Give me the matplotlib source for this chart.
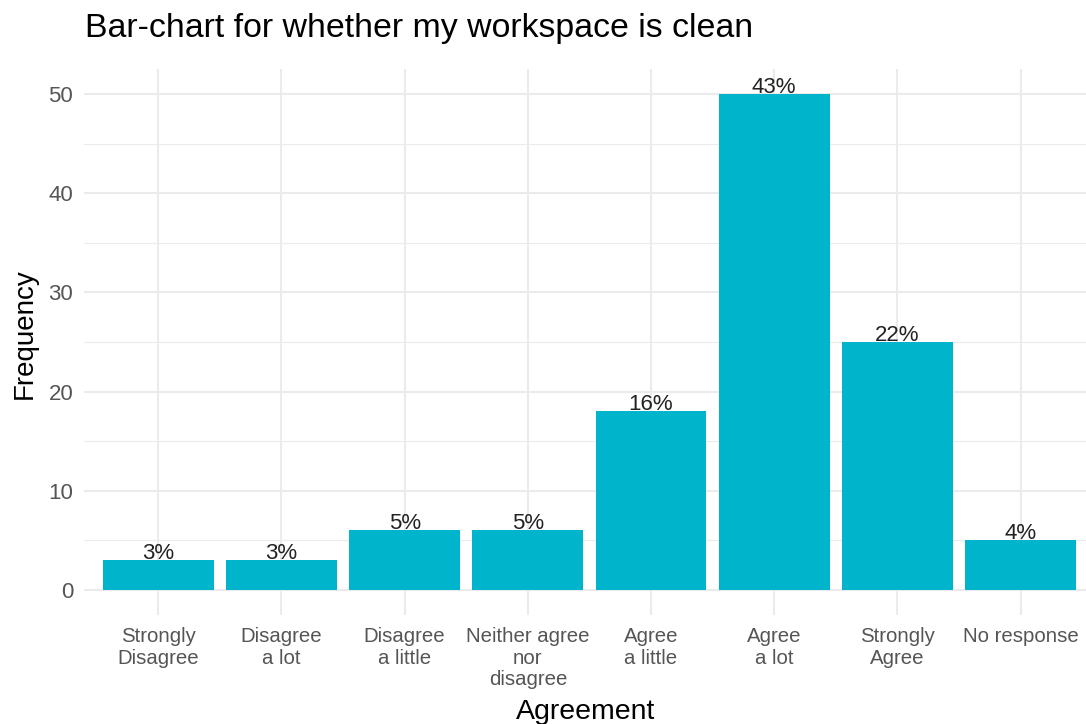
import numpy as np
import matplotlib
matplotlib.use("Agg")
import matplotlib.pyplot as plt
from matplotlib.ticker import MultipleLocator

# data
categories = ["Strongly\nDisagree", "Disagree\na lot", "Disagree\na little",
              "Neither agree\nnor\ndisagree", "Agree\na little", "Agree\na lot",
              "Strongly\nAgree", "No response"]
counts = [3, 3, 6, 6, 18, 50, 25, 5]
pct_labels = ["3%", "3%", "5%", "5%", "16%", "43%", "22%", "4%"]

plt.rcParams['font.family'] = ['Liberation Sans', 'DejaVu Sans']

fig = plt.figure(figsize=(10.86, 7.24), dpi=100)
ax = fig.add_axes([84.4 / 1086, 1 - 614.8 / 724, (1086 - 84.4) / 1086, (614.8 - 69.2) / 724])

x = np.arange(1, len(counts) + 1)
ax.bar(x, counts, width=0.9, color="#00B4CB", zorder=3)

for xi, c, lab in zip(x, counts, pct_labels):
    ax.annotate(lab, (xi, c), xytext=(0, 1), textcoords="offset points",
                ha="center", va="baseline", fontsize=16, color="#222222", zorder=4)

ax.set_xlim(0.4, 8 + (1086 - 1020.5) / 123.2)
ax.set_ylim(-2.5, 52.5)
ax.set_xticks(x)
ax.set_xticklabels(categories, fontsize=14.7, color="#555555", linespacing=1.15)
ax.yaxis.set_major_locator(MultipleLocator(10))
ax.yaxis.set_minor_locator(MultipleLocator(5))
ax.tick_params(axis="y", labelsize=16, labelcolor="#555555", length=0, pad=8)
ax.tick_params(axis="x", length=0, pad=9)
ax.tick_params(which="minor", length=0)

ax.grid(which="major", color="#EBEBEB", linewidth=1.5, zorder=0)
ax.grid(which="minor", axis="y", color="#EBEBEB", linewidth=0.8, zorder=0)
for s in ax.spines.values():
    s.set_visible(False)

ax.set_xlabel("Agreement", fontsize=20.5, color="black", labelpad=7)
ax.set_ylabel("Frequency", fontsize=20, color="black", labelpad=6)
ax.yaxis.set_label_coords(-0.047, 0.515)
fig.text(85 / 1086, 1 - 28 / 724, "Bar-chart for whether my workspace is clean",
         fontsize=24.4, color="black", va="center", ha="left")

fig.savefig("out.png", dpi=100)
